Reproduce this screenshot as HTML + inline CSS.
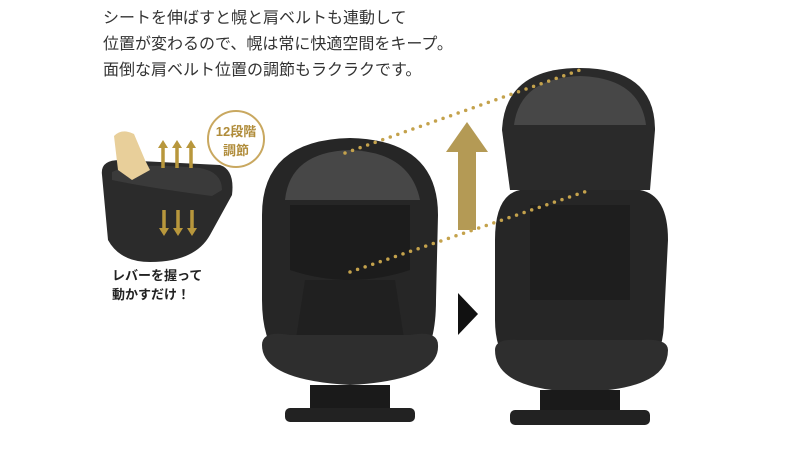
<!DOCTYPE html><html><head><meta charset="utf-8"><style>
body{margin:0;width:800px;height:450px;background:#fff;position:relative;overflow:hidden;font-family:"Liberation Sans","Noto Sans CJK JP",sans-serif}
.t{position:absolute;left:103px;top:6px;font-size:16px;line-height:26px;color:#333;letter-spacing:0}
.a{position:absolute}
</style></head><body>
<div class="t">シートを伸ばすと幌と肩ベルトも連動して<br>位置が変わるので、幌は常に快適空間をキープ。<br>面倒な肩ベルト位置の調節もラクラクです。</div>
<svg class="a" style="left:0;top:0" width="800" height="450">
<path d="M102 175 Q100 160 120 160 L220 165 Q235 170 232 195 L210 235 Q195 262 150 262 Q120 262 108 240 Z" fill="#2b2b2b"/>
<path d="M112 172 Q130 162 200 168 Q222 172 222 190 L212 196 Q150 188 112 180 Z" fill="#3a3a3a"/>
<path d="M114 136 Q122 128 134 134 L145 160 L150 170 L132 180 L118 170 Z" fill="#e8cf9a"/>
<g stroke="#b8973c" stroke-width="3.5" fill="#b8973c">
<line x1="163" y1="168" x2="163" y2="148"/><line x1="177" y1="168" x2="177" y2="148"/><line x1="191" y1="168" x2="191" y2="148"/>
<line x1="164" y1="210" x2="164" y2="228"/><line x1="178" y1="210" x2="178" y2="228"/><line x1="192" y1="210" x2="192" y2="228"/>
</g>
<g fill="#b8973c"><path d="M158 148 L163 140 L168 148Z"/><path d="M172 148 L177 140 L182 148Z"/><path d="M186 148 L191 140 L196 148Z"/>
<path d="M159 228 L164 236 L169 228Z"/><path d="M173 228 L178 236 L183 228Z"/><path d="M187 228 L192 236 L197 228Z"/></g>
<circle cx="236" cy="139" r="28" fill="#fff" stroke="#c9a860" stroke-width="2"/>
<text x="236" y="136" font-size="13" font-weight="bold" fill="#b08c3a" text-anchor="middle">12段階</text>
<text x="236" y="155" font-size="13" font-weight="bold" fill="#b08c3a" text-anchor="middle">調節</text>
<text x="112" y="280" font-size="13" font-weight="bold" fill="#222">レバーを握って</text>
<text x="112" y="299" font-size="13" font-weight="bold" fill="#222">動かすだけ！</text>
<path d="M262 215 Q262 140 350 138 Q438 140 438 215 L436 300 Q436 345 420 360 L280 360 Q262 340 262 300 Z" fill="#262626"/>
<path d="M285 200 Q290 152 350 150 Q410 152 420 200 Z" fill="#474747"/>
<path d="M290 205 L410 205 L410 270 Q350 290 290 270 Z" fill="#1c1c1c"/>
<path d="M305 280 L395 280 L405 345 L295 345 Z" fill="#202020"/>
<path d="M262 345 Q262 330 290 335 L410 335 Q438 330 438 345 Q440 380 350 385 Q262 380 262 345Z" fill="#2e2e2e"/>
<rect x="310" y="385" width="80" height="30" fill="#1a1a1a"/>
<rect x="285" y="408" width="130" height="14" rx="5" fill="#222"/>
<path d="M502 130 Q505 68 580 68 Q655 68 655 130 L650 190 L510 190Z" fill="#2a2a2a"/>
<path d="M514 125 Q520 78 580 76 Q640 78 646 125 Z" fill="#474747"/>
<path d="M495 240 Q495 195 520 190 L640 190 Q668 195 668 240 L664 320 Q664 350 650 365 L510 365 Q495 350 495 320Z" fill="#262626"/>
<path d="M530 205 L630 205 L630 300 L530 300Z" fill="#1e1e1e"/>
<path d="M495 350 Q495 338 520 340 L640 340 Q668 338 668 350 Q668 390 580 392 Q495 390 495 350Z" fill="#2e2e2e"/>
<rect x="540" y="390" width="80" height="25" fill="#1a1a1a"/>
<rect x="510" y="410" width="140" height="15" rx="5" fill="#222"/>
<rect x="458" y="150" width="18" height="80" fill="#b49a55"/>
<path d="M446 152 L467 122 L488 152Z" fill="#b49a55"/>
<path d="M458 293 L478 314 L458 335Z" fill="#111"/>
<g stroke="#c4a24c" stroke-width="3.5" stroke-linecap="round" stroke-dasharray="0 8">
<line x1="345" y1="153" x2="580" y2="70"/>
<line x1="350" y1="272" x2="590" y2="190"/>
</g>
</svg>
</body></html>
